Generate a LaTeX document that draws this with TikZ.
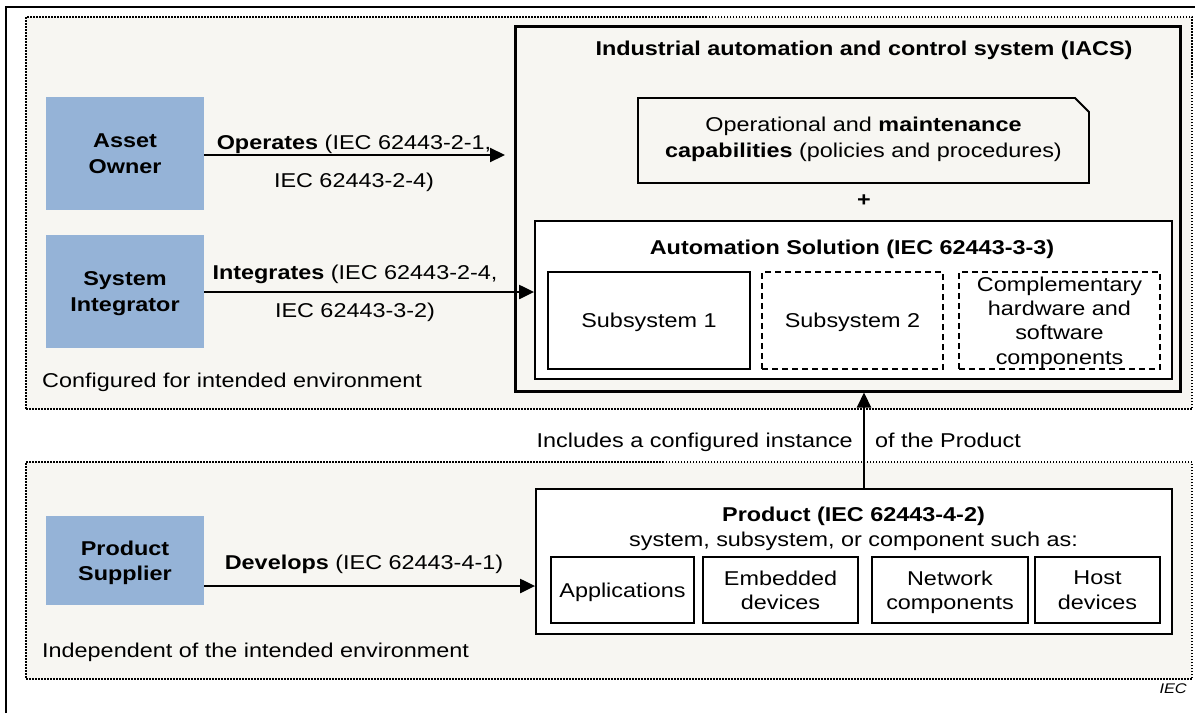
\documentclass[tikz,border=0pt]{standalone}
\usepackage{fontspec}
\setmainfont{Liberation Sans}[FakeStretch=1.17]
\usetikzlibrary{arrows.meta}
\definecolor{bluebox}{RGB}{149,179,215}
\definecolor{bgzone}{RGB}{247,246,242}
\begin{document}
\begin{tikzpicture}[x=1pt,y=-1pt,
  fnt/.style={font=\fontsize{20}{26}\selectfont},
  txt/.style={fnt, inner sep=0pt, text depth=0pt},
  one/.style={txt, text height=14.5pt, text depth=0pt},
  actor/.style={fill=bluebox, minimum width=158pt, inner sep=0pt, align=center, text depth=0pt,
    font=\fontsize{20}{25.5}\selectfont\bfseries},
  zone/.style={draw, line width=1.5pt, dash pattern=on 1.5pt off 1.5pt, fill=bgzone, inner sep=0pt},
  box/.style={draw, line width=1.8pt, fill=white, inner sep=0pt, align=center, text depth=0pt,
    font=\fontsize{20}{24.3}\selectfont},
  dbox/.style={box, dash pattern=on 6pt off 4pt},
  arr/.style={line width=2.2pt, -{Triangle[length=15pt,width=14pt]}},
]
\useasboundingbox (0,0) rectangle (1195,713);
% outer frame
\draw[line width=1.5pt] (6,713) -- (6,7) -- (1195,7);
% zones
\node[zone, minimum width=1166pt, minimum height=392pt] (upper) at (609,213) {};
\node[zone, minimum width=1166pt, minimum height=217pt] (lower) at (609,570.5) {};
\node[one, anchor=west] (cfg) at (42,380) {Configured for intended environment};
\node[one, anchor=west] (ind) at (42,650) {Independent of the intended environment};

% actors
\node[actor, minimum height=113pt] (ao) at (125,153.5) {Asset\\Owner};
\node[actor, minimum height=113pt] (si) at (125,291.5) {System\\Integrator};
\node[actor, minimum height=89pt] (ps) at (125,560.5) {Product\\Supplier};

% IACS
\node[draw, line width=3pt, fill=bgzone, minimum width=665pt, minimum height=365pt, inner sep=0pt] (iacs) at (847.5,208.5) {};
\node[one, font=\fontsize{20}{26}\selectfont\bfseries] (iacst) at (864,48) {Industrial automation and control system (IACS)};
\draw[line width=1.8pt, fill=bgzone] (638,98) -- (1075,98) -- (1089,112) -- (1089,183) -- (638,183) -- cycle;
\node[txt, align=center] (ops) at (863.5,137) {Operational and \textbf{maintenance}\\\textbf{capabilities} (policies and procedures)};
\node[one, font=\fontsize{20}{26}\selectfont\bfseries] (plus) at (864,199) {+};

\node[box, minimum width=637pt, minimum height=158pt] (auto) at (853.5,300) {};
\node[one, font=\fontsize{20}{26}\selectfont\bfseries] (autot) at (852,247) {Automation Solution (IEC 62443-3-3)};
\node[box, minimum width=202pt, minimum height=97pt] (sub1) at (649,320.5) {Subsystem 1};
\node[dbox, minimum width=181pt, minimum height=97pt] (sub2) at (852.5,320.5) {Subsystem 2};
\node[dbox, minimum width=201pt, minimum height=97pt] (comp) at (1059.5,320.5) {Complementary\\hardware and\\software\\components};

% Product
\node[box, minimum width=636pt, minimum height=145pt] (prod) at (854,561.5) {};
\node[txt, align=center, font=\fontsize{20}{25}\selectfont] (prodt) at (853.5,526.5) {\textbf{Product (IEC 62443-4-2)}\\system, subsystem, or component such as:};
\node[box, minimum width=143pt, minimum height=66pt] (apps) at (622.5,590) {Applications};
\node[box, minimum width=155pt, minimum height=66pt] (emb) at (780.5,590) {Embedded\\devices};
\node[box, minimum width=156pt, minimum height=66pt] (net) at (950,590) {Network\\components};
\node[box, minimum width=125pt, minimum height=66pt] (host) at (1097.5,590) {Host\\devices};

% connectors
\coordinate (opend) at (505,155);
\draw[arr] (ao.east |- opend) -- (opend);
\node[txt, align=center, font=\fontsize{20}{38}\selectfont] (opl) at (354,161) {\textbf{Operates} (IEC 62443-2-1,\\IEC 62443-2-4)};
\coordinate (iny) at (0,292);
\draw[arr] (si.east |- iny) -- (auto.west |- iny);
\node[txt, align=center, font=\fontsize{20}{38}\selectfont] (inl) at (355,291) {\textbf{Integrates} (IEC 62443-2-4,\\IEC 62443-3-2)};
\coordinate (devy) at (0,586);
\draw[arr] (ps.east |- devy) -- (prod.west |- devy);
\node[one] (devl) at (364,562) {\textbf{Develops} (IEC 62443-4-1)};
\coordinate (vx) at (864,0);
\draw[arr] (prod.north -| vx) -- (iacs.south -| vx);
\node[one, anchor=east] (incl) at (853,440) {Includes a configured instance};
\node[one, anchor=west] (incr) at (875,440) {of the Product};

\node[inner sep=0pt, font=\fontsize{14}{16}\selectfont\itshape, anchor=east, text height=10pt, text depth=0pt] (iec) at (1187,688) {IEC};
\end{tikzpicture}
\end{document}
